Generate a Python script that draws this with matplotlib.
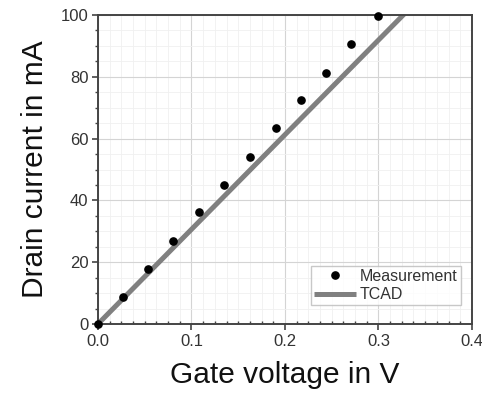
import matplotlib
matplotlib.use("Agg")
import matplotlib.pyplot as plt
from matplotlib.ticker import MultipleLocator

plt.rcParams['font.family'] = ['Liberation Sans', 'DejaVu Sans']

meas_x = [0.0, 0.0264, 0.0532, 0.0799, 0.1084, 0.135, 0.1626, 0.19, 0.217, 0.244, 0.2706, 0.2995]
meas_y = [0.0, 8.8, 17.9, 27.0, 36.1, 45.1, 54.1, 63.3, 72.4, 81.3, 90.5, 99.8]
tcad_x = [0.0, 0.4]
tcad_y = [0.0, 122.5]

fig = plt.figure(figsize=(4.82, 3.93), dpi=100)
ax = fig.add_axes([0.2033, 0.1756, 0.7757, 0.7862])

ax.plot(tcad_x, tcad_y, color='#808080', lw=3.6, label='TCAD', zorder=2, solid_capstyle='butt')
ax.plot(meas_x, meas_y, 'o', color='black', ms=5.2, label='Measurement', zorder=3, clip_on=False)

ax.set_xlim(0, 0.4)
ax.set_ylim(0, 100)
ax.xaxis.set_major_locator(MultipleLocator(0.1))
ax.xaxis.set_minor_locator(MultipleLocator(0.0125))
ax.yaxis.set_major_locator(MultipleLocator(20))
ax.yaxis.set_minor_locator(MultipleLocator(5))
ax.xaxis.set_major_formatter(matplotlib.ticker.FormatStrFormatter('%.1f'))

ax.grid(which='major', color='#d4d4d4', lw=0.8)
ax.grid(which='minor', color='#f0f0f0', lw=0.6)
ax.set_axisbelow(True)

for s in ax.spines.values():
    s.set_color('#444444')
    s.set_linewidth(1.4)

ax.tick_params(which='major', direction='out', length=4, width=1.2, color='#444444',
               labelsize=12, labelcolor='#333333', pad=3)
ax.tick_params(which='minor', direction='out', length=2.5, width=1.0, color='#444444')
ax.tick_params(axis='x', which='minor', direction='in')

ax.set_xlabel('Gate voltage in V', fontsize=21.5, labelpad=9, color='#111111')
ax.set_ylabel('Drain current in mA', fontsize=21.5, labelpad=8, color='#111111')

handles, labels = ax.get_legend_handles_labels()
leg = ax.legend(handles[::-1], labels[::-1], loc='lower right', bbox_to_anchor=(0.97, 0.06),
                fontsize=11.5, frameon=True, fancybox=False, edgecolor='#bbbbbb',
                borderpad=0.2, handlelength=2.6, handletextpad=0.25, labelspacing=0.2,
                borderaxespad=0)
leg.get_frame().set_linewidth(1.0)
for t in leg.get_texts():
    t.set_color('#333333')

fig.savefig('out.png', dpi=100)
